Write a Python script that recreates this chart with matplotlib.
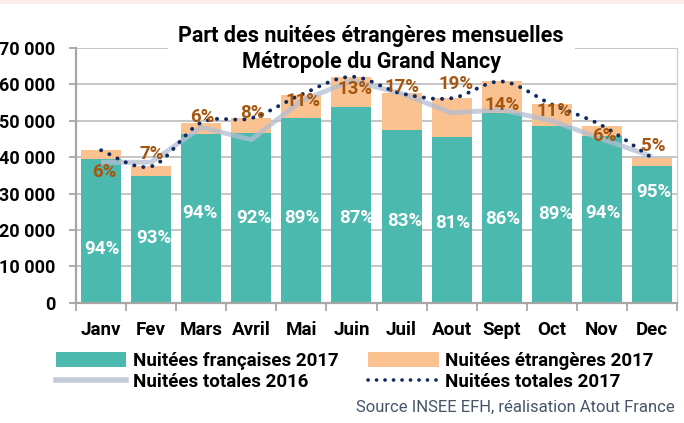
import matplotlib
matplotlib.use("Agg")
import matplotlib.pyplot as plt
import numpy as np
from matplotlib.path import Path
from matplotlib.patches import PathPatch, Patch, Rectangle
from matplotlib.lines import Line2D
from matplotlib.ticker import FuncFormatter, FixedLocator

# ---------------- data ----------------
months = ["Janv", "Fev", "Mars", "Avril", "Mai", "Juin", "Juil", "Aout",
          "Sept", "Oct", "Nov", "Dec"]
fr_2017 = [39400, 34800, 46400, 46600, 50700, 53700, 47600, 45500, 52100, 48600, 45750, 37700]
et_2017 = [2500, 2650, 3100, 4100, 6500, 8400, 9900, 10700, 8700, 5900, 2950, 2100]
total_2017 = [41900, 37450, 49500, 50700, 57200, 62100, 57500, 56200, 60800, 54500, 48700, 39800]
total_2016 = [38600, 38600, 48200, 44800, 55500, 61000, 57500, 52200, 53000, 50000, 45000, 40200]
pct_fr = ["94%", "93%", "94%", "92%", "89%", "87%", "83%", "81%", "86%", "89%", "94%", "95%"]
pct_et = ["6%", "7%", "6%", "8%", "11%", "13%", "17%", "19%", "14%", "11%", "6%", "5%"]
yticks = [0, 10000, 20000, 30000, 40000, 50000, 60000, 70000]

# label placement (style, in data units)
fr_lab_x = [0.02, 0.06, -0.02, 0.06, 0.0, 0.1, 0.06, 0.02, 0.02, 0.08, 0.02, 0.04]
fr_lab_y = [14700, 17700, 24600, 23200, 23200, 23200, 22400, 21800, 22900, 24300, 24600, 30300]
et_lab_x = [0.06, 0.02, 0.02, 0.02, 0.04, 0.08, 0.0, 0.08, 0.0, 0.04, 0.04, 0.02]
et_lab_y = [35800, 41000, 50900, 52000, 55500, 58800, 59400, 60200, 54400, 52800, 45900, 43200]

TEAL = "#4BB9AE"
PEACH = "#FAC191"
BROWN = "#A4550E"
GREY16 = "#B4BED2"
NAVY = "#0E2A5E"
GRID = "#C0C0C0"

plt.rcParams["font.family"] = ["Roboto", "DejaVu Sans"]

fig = plt.figure(figsize=(6.84, 4.23), dpi=100)
fig.patch.set_facecolor("white")
# pink strip at top
fig.patches.append(Rectangle((0, 1 - 4 / 423), 1, 4 / 423, transform=fig.transFigure,
                             facecolor="#FBEDE9", edgecolor="none", zorder=0))

ax = fig.add_axes([76 / 684, 1 - 302.7 / 423, (677 - 76) / 684, (302.7 - 48) / 423])
x = np.arange(len(months))

ax.bar(x, fr_2017, width=0.8, color=TEAL, zorder=2)
ax.bar(x, et_2017, width=0.8, bottom=fr_2017, color=PEACH, zorder=2)

# 2016 line (straight)
ax.plot(x, total_2016, color=GREY16, lw=3.5, alpha=0.75, zorder=3, solid_capstyle="butt")

# 2017 smoothed dotted line (Bezier, Excel-like smoothing)
pts = np.column_stack([x, total_2017]).astype(float)
verts = [tuple(pts[0])]
codes = [Path.MOVETO]
n = len(pts)
for i in range(n - 1):
    p0 = pts[max(i - 1, 0)]
    p1 = pts[i]
    p2 = pts[i + 1]
    p3 = pts[min(i + 2, n - 1)]
    c1 = p1 + (p2 - p0) / 6.0
    c2 = p2 - (p3 - p1) / 6.0
    verts += [tuple(c1), tuple(c2), tuple(p2)]
    codes += [Path.CURVE4] * 3
DOTS = (0, (0.05, 2.3))
pp = PathPatch(Path(verts, codes), fill=False, edgecolor=NAVY, lw=2.8,
               linestyle=DOTS, capstyle="round", zorder=4)
ax.add_patch(pp)

LABFS = 13.5
for i in range(n):
    ax.text(x[i] + fr_lab_x[i], fr_lab_y[i], pct_fr[i], color="white", fontsize=LABFS,
            fontweight="bold", ha="center", va="center", zorder=5)
    ax.text(x[i] + et_lab_x[i], et_lab_y[i], pct_et[i], color=BROWN, fontsize=LABFS,
            fontweight="bold", ha="center", va="center", zorder=5)

ax.set_xlim(-0.5, n - 0.5)
ax.set_ylim(0, 70000)
ax.yaxis.set_major_locator(FixedLocator(yticks))
ax.yaxis.set_major_formatter(FuncFormatter(lambda v, p: f"{int(v):,}".replace(",", " ")))
ax.grid(axis="y", color=GRID, lw=1.3, zorder=0)
ax.set_axisbelow(True)
ax.set_xticks(x)
ax.set_xticklabels(months)
ax.set_xticks(np.arange(-0.5, n, 1), minor=True)
ax.tick_params(axis="x", which="major", length=0, pad=13)
ax.tick_params(axis="x", which="minor", length=6, width=1.3, color="#A6A6A6")
ax.tick_params(axis="y", length=5, width=1.3, color="#A6A6A6", pad=10)
for lab in ax.get_yticklabels():
    lab.set_fontweight("bold")
    lab.set_fontsize(13)
    lab.set_color("black")
for lab in ax.get_xticklabels():
    lab.set_fontweight("bold")
    lab.set_fontsize(13.5)
    lab.set_color("black")
for s in ["left", "bottom"]:
    ax.spines[s].set_color("#A6A6A6")
    ax.spines[s].set_linewidth(1.6)
ax.spines["right"].set_color("#D0D0D0")
ax.spines["right"].set_linewidth(1.0)
ax.spines["top"].set_visible(False)

# title: white box hiding the top gridline behind it, then the text
fig.patches.append(Rectangle((168 / 684, 1 - 56 / 423), (575 - 168) / 684, 16 / 423,
                             transform=fig.transFigure, facecolor="white",
                             edgecolor="none", zorder=5))
fig.text(371 / 684, 1 - 49 / 423, "Part des nuitées étrangères mensuelles\nMétropole du Grand Nancy",
         ha="center", va="center", fontsize=15.5, fontweight="bold", linespacing=1.22,
         zorder=10)

# legend
handles = [Patch(facecolor=TEAL, edgecolor="none"),
           Line2D([], [], color=GREY16, lw=4, alpha=0.8),
           Patch(facecolor=PEACH, edgecolor="none"),
           Line2D([], [], color=NAVY, lw=2.6, linestyle=DOTS, dash_capstyle="round")]
labels = ["Nuitées françaises 2017", "Nuitées totales 2016",
          "Nuitées étrangères 2017", "Nuitées totales 2017"]
leg = fig.legend(handles, labels, ncol=2, loc="upper left",
                 bbox_to_anchor=(39 / 684, 1 - 335 / 423), frameon=False,
                 prop={"weight": "bold", "size": 13.5}, handlelength=3.75, handleheight=0.8,
                 columnspacing=1.6, labelspacing=0.15, handletextpad=0.35)

fig.text(675 / 684, 1 - 407 / 423, "Source INSEE EFH, réalisation Atout France",
         ha="right", va="center", fontsize=12, color="#44546A")

fig.savefig("out.png", dpi=100, facecolor="white")
